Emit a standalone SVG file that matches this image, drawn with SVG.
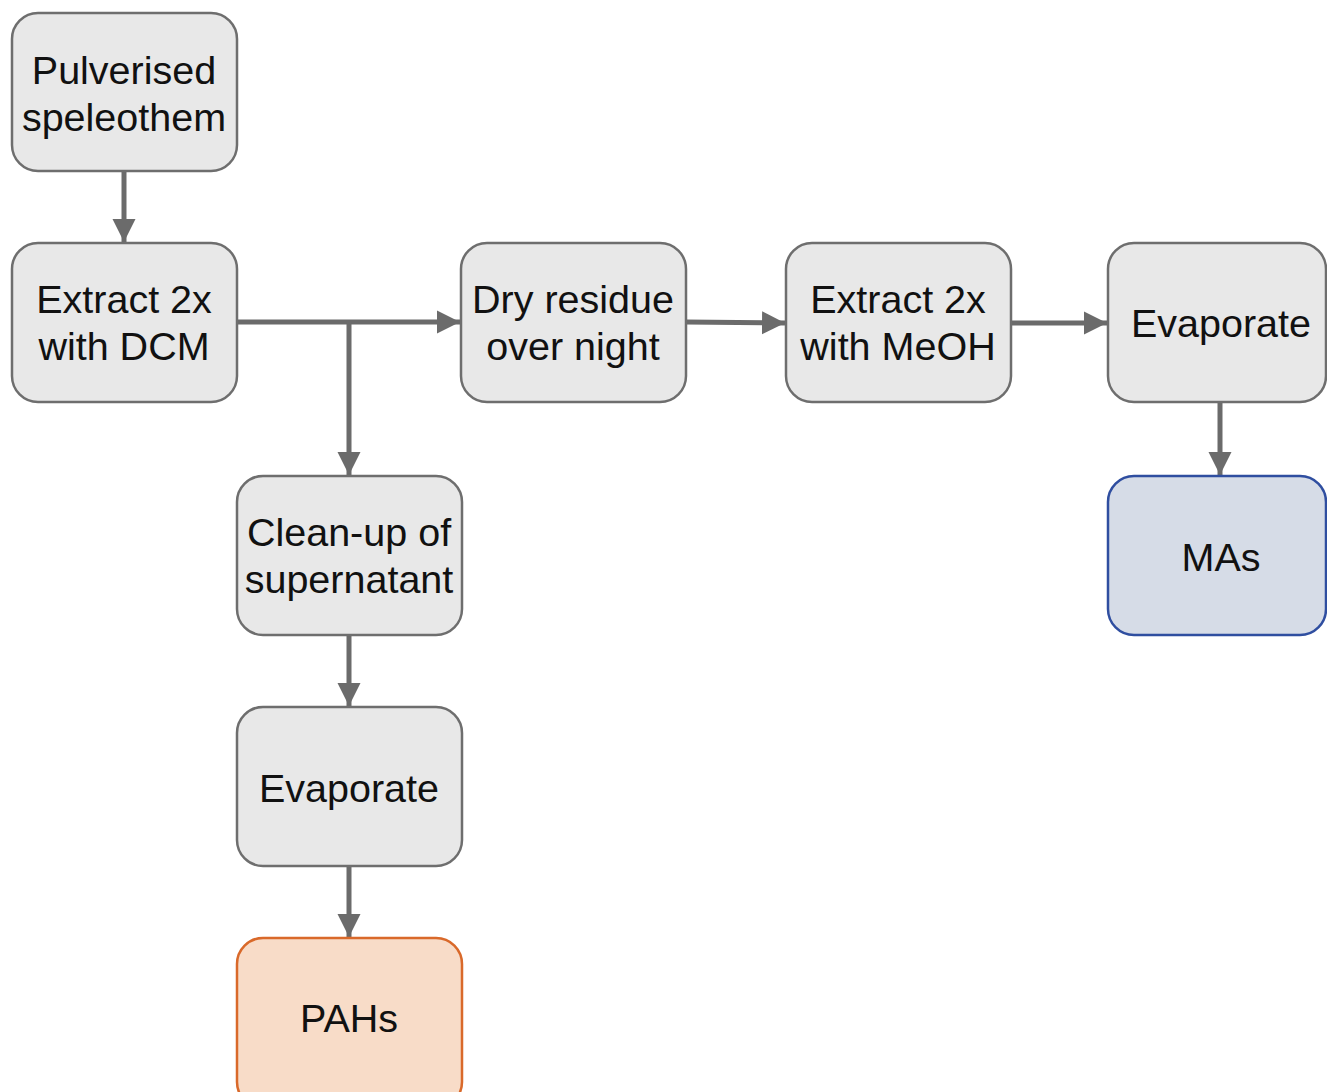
<svg xmlns="http://www.w3.org/2000/svg" width="1327" height="1092" viewBox="0 0 1327 1092">
  <style>
    .box { fill: #e8e8e8; stroke: #6e6e6e; stroke-width: 2.5; }
    .mas { fill: #d6dce7; stroke: #2f4ea0; stroke-width: 2.5; }
    .pahs { fill: #f8dcc8; stroke: #d9692a; stroke-width: 2.5; }
    text { font-family: "Liberation Sans", Arial, sans-serif; font-size: 39.5px; fill: #111; text-anchor: middle; }
    .wire { fill: none; stroke: #6b6b6b; stroke-width: 5; }
  </style>
  <defs>
    <marker id="head" viewBox="0 0 10 10" refX="10" refY="5" markerWidth="4.6" markerHeight="4.8" markerUnits="strokeWidth" orient="auto">
      <path d="M0,0 L10,5 L0,10 Z" fill="#6b6b6b"/>
    </marker>
  </defs>
  <rect width="1327" height="1092" fill="#ffffff"/>

  <g id="connectors">
    <line class="wire" x1="124" y1="171" x2="124" y2="242" marker-end="url(#head)"/>
    <line class="wire" x1="237" y1="322" x2="460" y2="322" marker-end="url(#head)"/>
    <line class="wire" x1="349" y1="322" x2="349" y2="475" marker-end="url(#head)"/>
    <line class="wire" x1="686" y1="322" x2="785" y2="323" marker-end="url(#head)"/>
    <line class="wire" x1="1011" y1="323" x2="1107" y2="323" marker-end="url(#head)"/>
    <line class="wire" x1="1220" y1="402" x2="1220" y2="475" marker-end="url(#head)"/>
    <line class="wire" x1="349" y1="635" x2="349" y2="706" marker-end="url(#head)"/>
    <line class="wire" x1="349" y1="866" x2="349" y2="937" marker-end="url(#head)"/>
  </g>

  <g id="pulverised">
    <rect class="box" x="12" y="13" width="225" height="158" rx="26"/>
    <text x="124" y="84">Pulverised</text>
    <text x="124" y="131">speleothem</text>
  </g>
  <g id="extract-dcm">
    <rect class="box" x="12" y="243" width="225" height="159" rx="26"/>
    <text x="124" y="313">Extract 2x</text>
    <text x="124" y="360">with DCM</text>
  </g>
  <g id="dry-residue">
    <rect class="box" x="461" y="243" width="225" height="159" rx="26"/>
    <text x="573" y="313">Dry residue</text>
    <text x="573" y="360">over night</text>
  </g>
  <g id="extract-meoh">
    <rect class="box" x="786" y="243" width="225" height="159" rx="26"/>
    <text x="898" y="313">Extract 2x</text>
    <text x="898" y="360">with MeOH</text>
  </g>
  <g id="evaporate-meoh">
    <rect class="box" x="1108" y="243" width="218" height="159" rx="26"/>
    <text x="1221" y="337">Evaporate</text>
  </g>
  <g id="mas">
    <rect class="mas" x="1108" y="476" width="218" height="159" rx="26"/>
    <text x="1221" y="571">MAs</text>
  </g>
  <g id="cleanup">
    <rect class="box" x="237" y="476" width="225" height="159" rx="26"/>
    <text x="349" y="546">Clean-up of</text>
    <text x="349" y="593">supernatant</text>
  </g>
  <g id="evaporate-dcm">
    <rect class="box" x="237" y="707" width="225" height="159" rx="26"/>
    <text x="349" y="802">Evaporate</text>
  </g>
  <g id="pahs">
    <rect class="pahs" x="237" y="938" width="225" height="170" rx="26"/>
    <text x="349" y="1032">PAHs</text>
  </g>
</svg>
